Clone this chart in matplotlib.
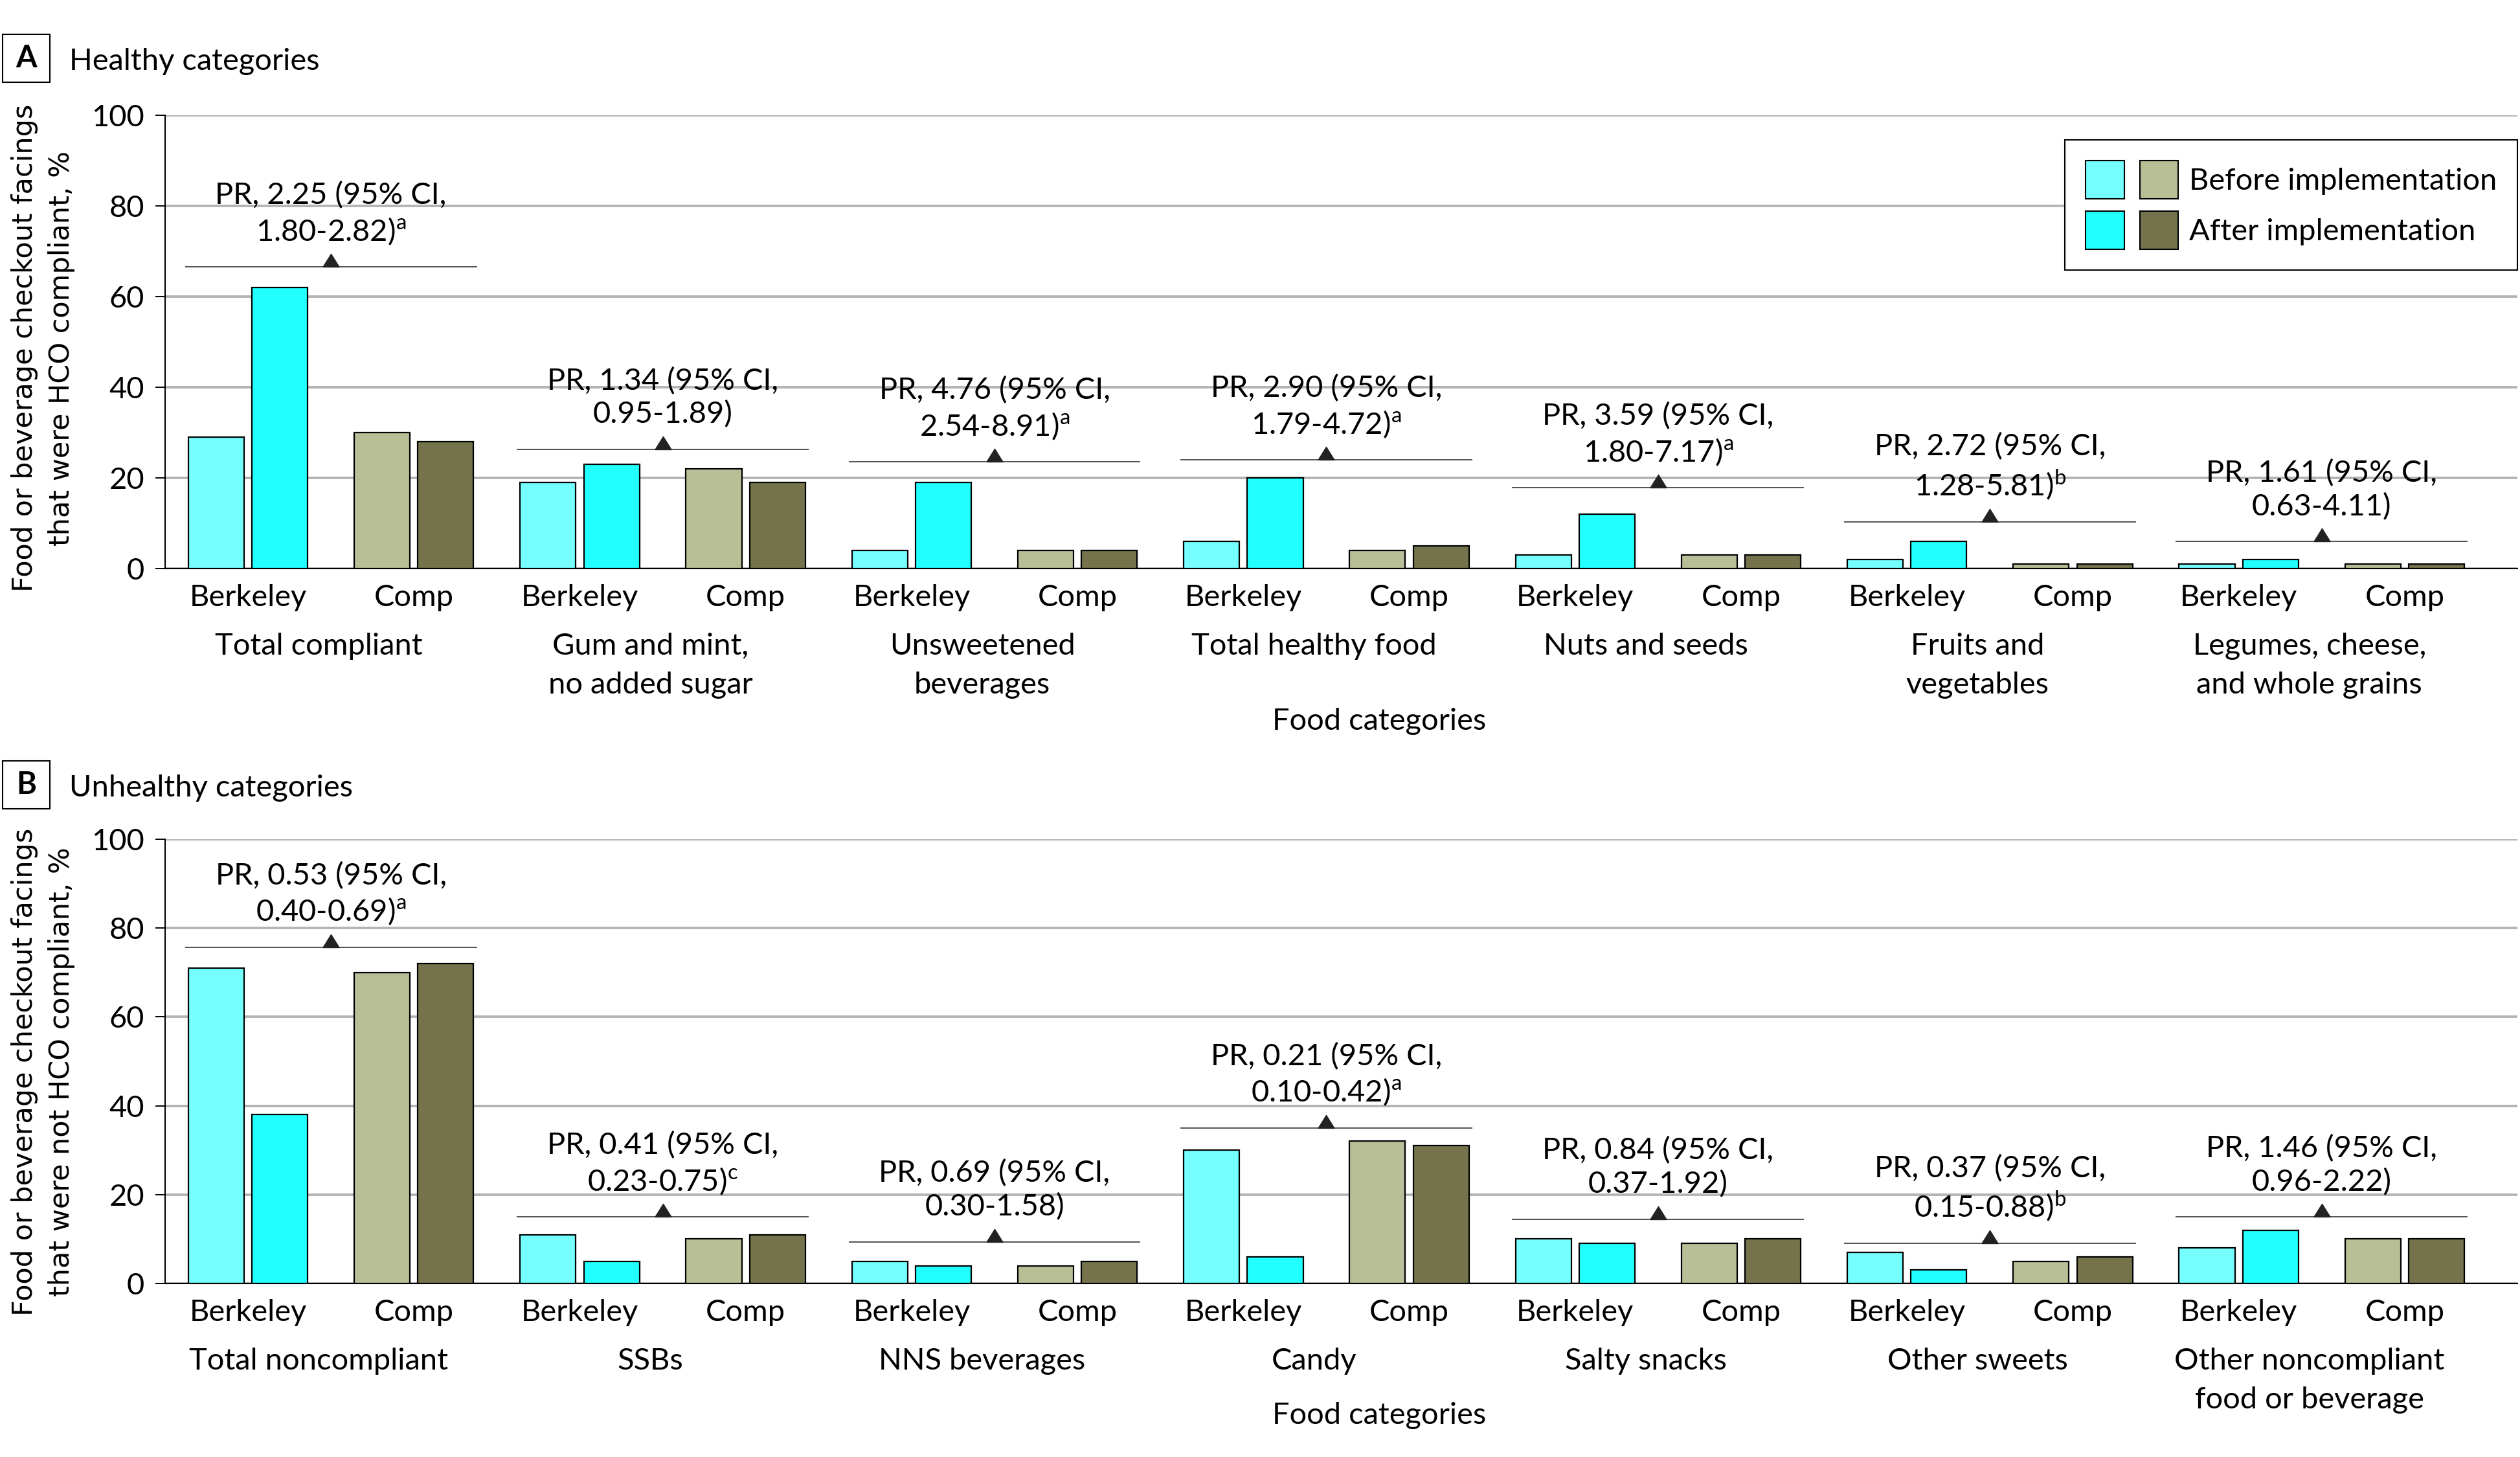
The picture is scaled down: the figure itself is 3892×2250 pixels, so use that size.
import numpy as np
import matplotlib.pyplot as plt
from matplotlib.patches import Patch, Rectangle
from matplotlib.legend_handler import HandlerTuple

plt.rcParams['font.family'] = ['Lato', 'DejaVu Sans']
plt.rcParams['mathtext.fontset'] = 'custom'
plt.rcParams['mathtext.rm'] = 'Lato'
FS = 33.8

# ---- data ----
healthy_cats = ['Total compliant', 'Gum and mint,\nno added sugar', 'Unsweetened\nbeverages',
                'Total healthy food', 'Nuts and seeds', 'Fruits and\nvegetables',
                'Legumes, cheese,\nand whole grains']
healthy_berk_before = [29, 19, 4, 6, 3, 2, 1]
healthy_berk_after = [62, 23, 19, 20, 12, 6, 2]
healthy_comp_before = [30, 22, 4, 4, 3, 1, 1]
healthy_comp_after = [28, 19, 4, 5, 3, 1, 1]
healthy_pr = ['2.25', '1.34', '4.76', '2.90', '3.59', '2.72', '1.61']
healthy_ci = ['1.80-2.82', '0.95-1.89', '2.54-8.91', '1.79-4.72', '1.80-7.17', '1.28-5.81', '0.63-4.11']
healthy_note = ['a', '', 'a', 'a', 'a', 'b', '']
healthy_bracket = [66.5, 26.3, 23.5, 24, 17.8, 10.3, 6]

unhealthy_cats = ['Total noncompliant', 'SSBs', 'NNS beverages', 'Candy', 'Salty snacks',
                  'Other sweets', 'Other noncompliant\nfood or beverage']
unhealthy_berk_before = [71, 11, 5, 30, 10, 7, 8]
unhealthy_berk_after = [38, 5, 4, 6, 9, 3, 12]
unhealthy_comp_before = [70, 10, 4, 32, 9, 5, 10]
unhealthy_comp_after = [72, 11, 5, 31, 10, 6, 10]
unhealthy_pr = ['0.53', '0.41', '0.69', '0.21', '0.84', '0.37', '1.46']
unhealthy_ci = ['0.40-0.69', '0.23-0.75', '0.30-1.58', '0.10-0.42', '0.37-1.92', '0.15-0.88', '0.96-2.22']
unhealthy_note = ['a', 'c', '', 'a', '', 'b', '']
unhealthy_bracket = [75.7, 15, 9.4, 35, 14.5, 9, 15]

c_berk_before = '#75ffff'
c_berk_after = '#22ffff'
c_comp_before = '#b8bf97'
c_comp_after = '#74734c'

fig = plt.figure(figsize=(38.92, 22.5), dpi=100)
axA = fig.add_axes([0.0655, 0.6098, 0.9335, 0.3111])
axB = fig.add_axes([0.0655, 0.1191, 0.9335, 0.3049])

tri = [(-0.625, 0), (0.625, 0), (0, 1), (-0.625, 0)]


def draw_panel(ax, cats, bb, ba, cb, ca, pr, ci, note, bracket, xlab_off):
    x = np.arange(len(cats))
    w = 0.168
    d = 0.096
    for off, vals, col in [(-0.25 - d, bb, c_berk_before), (-0.25 + d, ba, c_berk_after),
                           (0.25 - d, cb, c_comp_before), (0.25 + d, ca, c_comp_after)]:
        ax.bar(x + off, vals, width=w, color=col, edgecolor='black', linewidth=1.6, zorder=3)
    ax.hlines(bracket, x - 0.44, x + 0.44, color='#333333', lw=1.2, zorder=4)
    ax.plot(x, bracket, ls='none', marker=tri, markersize=29, color='#222222', zorder=5)
    for i in range(len(cats)):
        sup = r'$^{\mathrm{%s}}$' % note[i] if note[i] else ''
        txt = 'PR, %s (95%% CI,\n%s)%s' % (pr[i], ci[i], sup)
        ax.annotate(txt, xy=(x[i], bracket[i]), xytext=(0, 29), textcoords='offset points',
                    ha='center', va='baseline', fontsize=FS, linespacing=1.25, zorder=6)
        ax.annotate(cats[i], xy=(x[i] - 0.037, 0), xycoords=('data', 'axes fraction'),
                    xytext=(0, -71), textcoords='offset points', ha='center', va='top',
                    fontsize=FS, linespacing=1.55)
    ax.annotate('Food categories', xy=(3.16, 0), xycoords=('data', 'axes fraction'),
                xytext=(0, -xlab_off), textcoords='offset points', ha='center', va='top',
                fontsize=FS)
    ticks = np.ravel(np.column_stack([x - 0.25, x + 0.25]))
    ax.set_xticks(ticks)
    ax.set_xticklabels(['Berkeley', 'Comp'] * len(cats))
    ax.set_xlim(-0.5, 6.59)
    ax.set_ylim(0, 100)
    ax.set_yticks([0, 20, 40, 60, 80, 100])
    ax.tick_params(axis='x', length=0, pad=17, labelsize=FS)
    ax.tick_params(axis='y', length=11, width=1.4, pad=12, labelsize=FS)
    ax.yaxis.grid(True, color='#b4b4b4', lw=2.8)
    ax.set_axisbelow(True)
    for s in ['top', 'right']:
        ax.spines[s].set_visible(False)
    for s in ['left', 'bottom']:
        ax.spines[s].set_linewidth(1.5)


draw_panel(axA, healthy_cats, healthy_berk_before, healthy_berk_after, healthy_comp_before,
           healthy_comp_after, healthy_pr, healthy_ci, healthy_note, healthy_bracket, 155)
draw_panel(axB, unhealthy_cats, unhealthy_berk_before, unhealthy_berk_after, unhealthy_comp_before,
           unhealthy_comp_after, unhealthy_pr, unhealthy_ci, unhealthy_note, unhealthy_bracket, 132)

# legend
handles = [(Patch(fc=c_berk_before, ec='black', lw=1.5), Patch(fc=c_comp_before, ec='black', lw=1.5)),
           (Patch(fc=c_berk_after, ec='black', lw=1.5), Patch(fc=c_comp_after, ec='black', lw=1.5))]
leg = axA.legend(handles, ['Before implementation', 'After implementation'],
                 handler_map={tuple: HandlerTuple(ndivide=None, pad=0.51)},
                 loc='upper right', bbox_to_anchor=(1.0, 0.946), borderaxespad=0,
                 fontsize=FS, handlelength=3.04, handleheight=1.555, handletextpad=0.36,
                 labelspacing=0.41, borderpad=0.68, fancybox=False, framealpha=1,
                 edgecolor='black')
leg.get_frame().set_linewidth(1.5)

# panel letters and titles
for y0, letter, title in [(0.9436, 'A', 'Healthy categories'), (0.4449, 'B', 'Unhealthy categories')]:
    fig.patches.append(Rectangle((0.001, y0), 0.0188, 0.0329, transform=fig.transFigure,
                                 fill=False, ec='black', lw=1.5))
    fig.text(0.0104, y0 + 0.0165, letter, ha='center', va='center', fontsize=FS,
             fontweight='bold')
    fig.text(0.0275, y0 + 0.0084, title, ha='left', va='baseline', fontsize=FS)

fig.text(0.017, 0.761, 'Food or beverage checkout facings\nthat were HCO compliant, %',
         rotation=90, ha='center', va='center', multialignment='center',
         fontsize=31, family='DejaVu Sans', linespacing=1.45)
fig.text(0.017, 0.2644, 'Food or beverage checkout facings\nthat were not HCO compliant, %',
         rotation=90, ha='center', va='center', multialignment='center',
         fontsize=31, family='DejaVu Sans', linespacing=1.45)

fig.savefig('out.png', dpi=100)
